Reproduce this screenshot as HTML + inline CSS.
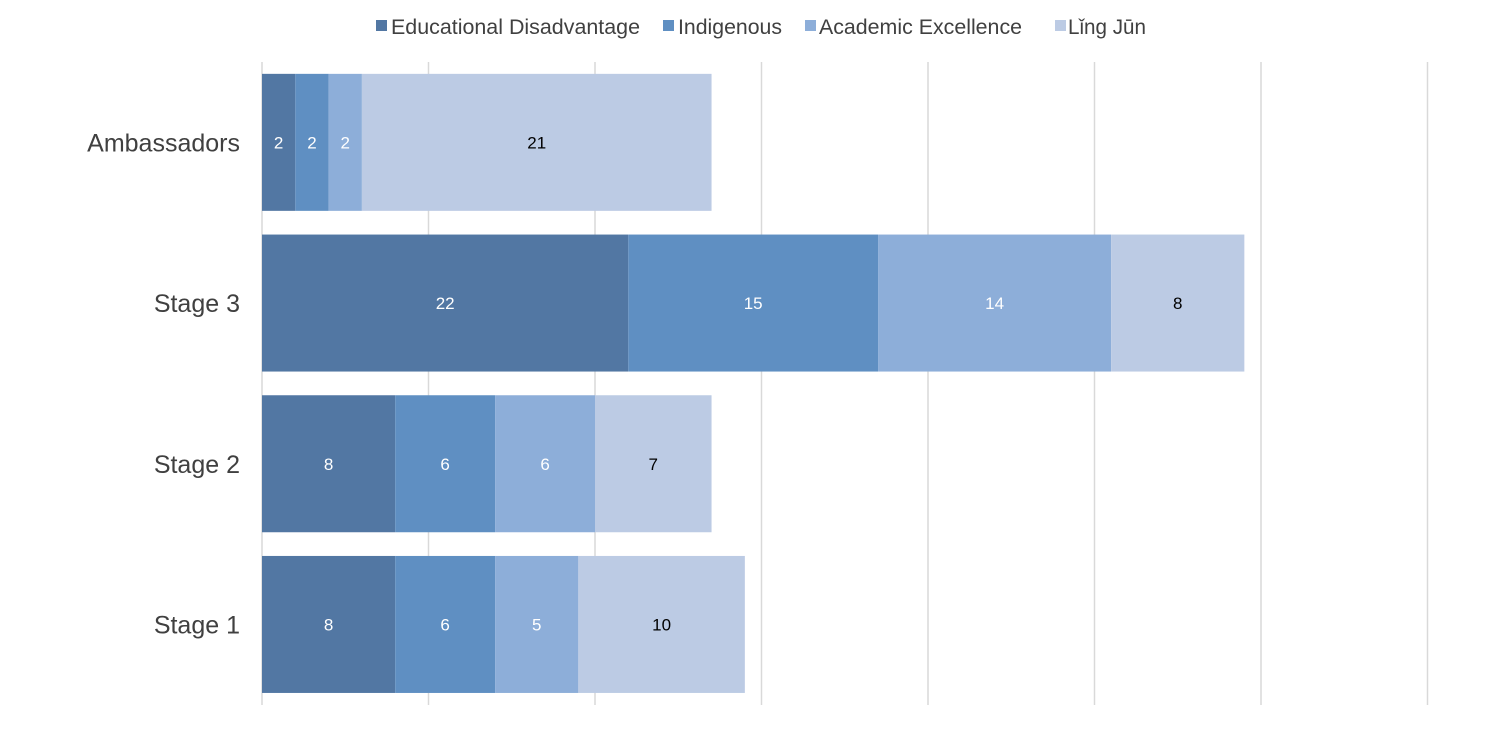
<!DOCTYPE html>
<html><head><meta charset="utf-8"><style>
body{margin:0;background:#fff;width:1500px;height:746px;overflow:hidden;font-family:"Liberation Sans",sans-serif;}
svg text{font-family:"Liberation Sans",sans-serif;}
</style></head><body>
<svg id="chart" width="1500" height="746" xmlns="http://www.w3.org/2000/svg"></svg>
<script>
const categories = ["Ambassadors","Stage 3","Stage 2","Stage 1"];
const seriesNames = ["Educational Disadvantage","Indigenous","Academic Excellence","Lǐng Jūn"];
const eduValues = [2,22,8,8];
const indValues = [2,15,6,6];
const acaValues = [2,14,6,5];
const lingValues = [21,8,7,10];
const gridTicks = [0,10,20,30,40,50,60,70];

const svg = document.getElementById('chart');
const NS = 'http://www.w3.org/2000/svg';
const colors = ["#5277a3","#5f8fc2","#8daed9","#bccbe4"];
const textColors = ["#fff","#fff","#fff","#000"];
const x0 = 262, pxPerUnit = 16.65;
const xScale = v => x0 + v * pxPerUnit;
const bandTop = 62, bandH = 160.7, barH = 137;
const yBand = i => bandTop + i * bandH + (bandH - barH) / 2;

function mk(tag, attrs){const e=document.createElementNS(NS,tag);for(const k in attrs)e.setAttribute(k,attrs[k]);svg.appendChild(e);return e;}

gridTicks.forEach((t,i)=>{
  const l = mk('line',{x1:xScale(t),x2:xScale(t),y1:62,y2:705,stroke:'#d9d9d9','stroke-width':1.5});
  
  
});

const all = [eduValues,indValues,acaValues,lingValues];
categories.forEach((c,i)=>{
  const y = yBand(i);
  const lab = mk('text',{x:240,y:y+barH/2+9,'text-anchor':'end','font-size':25,fill:'#404040'});
  lab.textContent = c;
  
  
  let acc = 0;
  all.forEach((arr,s)=>{
    const v = arr[i];
    const r = mk('rect',{x:xScale(acc),y:y,width:v*pxPerUnit,height:barH,fill:colors[s]});
    
    
    const t = mk('text',{x:xScale(acc+v/2),y:y+barH/2+6,'text-anchor':'middle','font-size':17,fill:textColors[s]});
    t.textContent = v;
    
    
    acc += v;
  });
});

const legendSq = [376,663,805,1055];
const legendTx = [391,678,819,1068];
const legendW = [249,104,203,78];
seriesNames.forEach((n,s)=>{
  const r = mk('rect',{x:legendSq[s],y:20,width:11,height:11,fill:colors[s]});
  
  
  const t = mk('text',{x:legendTx[s],y:34,'font-size':21,fill:'#404040',textLength:legendW[s],lengthAdjust:'spacingAndGlyphs'});
  t.textContent = n;
  
  
});
</script>
</body></html>
